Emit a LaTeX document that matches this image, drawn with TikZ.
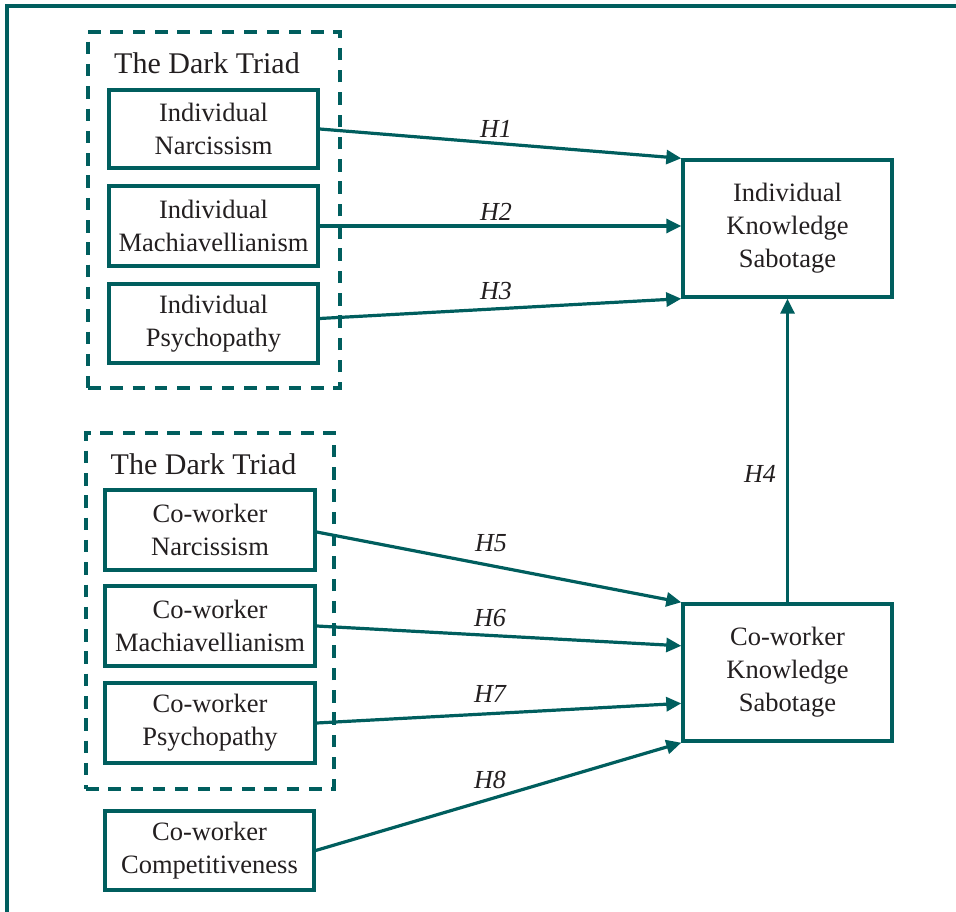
\documentclass[tikz,border=0pt]{standalone}
\usepackage{fontspec}
\setmainfont{Liberation Serif}
\usetikzlibrary{arrows.meta,calc}
\definecolor{teal}{RGB}{0,94,94}
\definecolor{ink}{RGB}{35,31,32}
\tikzset{
  box/.style={draw=teal, line width=3.4pt, rectangle, align=center, text=ink,
    font=\fontsize{26.5}{33}\selectfont, inner sep=0pt},
  triad/.style={draw=teal, line width=3.2pt, dash pattern=on 12.5pt off 9.8pt, rectangle, inner sep=0pt},
  triadtitle/.style={text=ink, font=\fontsize{30}{36}\selectfont, inner sep=0pt},
  link/.style={draw=teal, line width=3.2pt, -{Triangle[length=15pt,width=14pt]}},
  hyp/.style={text=ink, font=\fontsize{26}{30}\selectfont\itshape, inner sep=0pt},
  frame/.style={draw=teal, line width=3.4pt}
}
\begin{document}
\begin{tikzpicture}[x=1pt,y=-1pt]
\useasboundingbox (0,0) rectangle (956,912);
\fill[white] (0,0) rectangle (956,912);
\draw[frame] (7,930) -- (7,6) -- (970,6);

% dashed groups
\node[triad, minimum width=252pt, minimum height=356pt] (tri1) at (214,210) {};
\node[triad, minimum width=248pt, minimum height=356pt] (tri2) at (210,611) {};
\node[triadtitle] (t1) at (207,63) {The Dark Triad};
\node[triadtitle] (t2) at (203.5,464) {The Dark Triad};

% left boxes
\node[box, minimum width=209pt, minimum height=78pt] (ina) at (213.5,129) {Individual\\Narcissism};
\node[box, minimum width=209pt, minimum height=80pt] (ima) at (213.5,226) {Individual\\Machiavellianism};
\node[box, minimum width=209pt, minimum height=79pt] (ips) at (213.5,323.5) {Individual\\Psychopathy};
\node[box, minimum width=210pt, minimum height=80pt] (cna) at (210,530) {Co-worker\\Narcissism};
\node[box, minimum width=210pt, minimum height=80pt] (cma) at (210,626) {Co-worker\\Machiavellianism};
\node[box, minimum width=210pt, minimum height=80pt] (cps) at (210,723) {Co-worker\\Psychopathy};
\node[box, minimum width=209pt, minimum height=79pt] (ccp) at (209.5,850.5) {Co-worker\\Competitiveness};

% right boxes
\node[box, minimum width=209pt, minimum height=137pt] (iks) at (787.5,228.5) {Individual\\Knowledge\\Sabotage};
\node[box, minimum width=209pt, minimum height=137pt] (cks) at (787.5,672.5) {Co-worker\\Knowledge\\Sabotage};

% connectors
\draw[link] (ina.east) -- (iks.north west);
\draw[link] (ima.east) -- (ima.east -| iks.west);
\draw[link] ($(ips.east)+(0,-5)$) -- (iks.south west);
\draw[link] (cks.north) -- (iks.south);
\draw[link] ($(cna.east)+(0,2)$) -- (cks.north west);
\draw[link] (cma.east) -- ($(cks.north west)!0.31!(cks.south west)$);
\draw[link] (cps.east) -- ($(cks.north west)!0.72!(cks.south west)$);
\draw[link] (ccp.east) -- (cks.south west);

% labels
\node[hyp] (h1) at (496,129) {H1};
\node[hyp] (h2) at (496,211.5) {H2};
\node[hyp] (h3) at (496,291) {H3};
\node[hyp] (h4) at (760,474) {H4};
\node[hyp] (h5) at (491,543) {H5};
\node[hyp] (h6) at (490,618.5) {H6};
\node[hyp] (h7) at (490,693.5) {H7};
\node[hyp] (h8) at (490,780) {H8};
\end{tikzpicture}
\end{document}
